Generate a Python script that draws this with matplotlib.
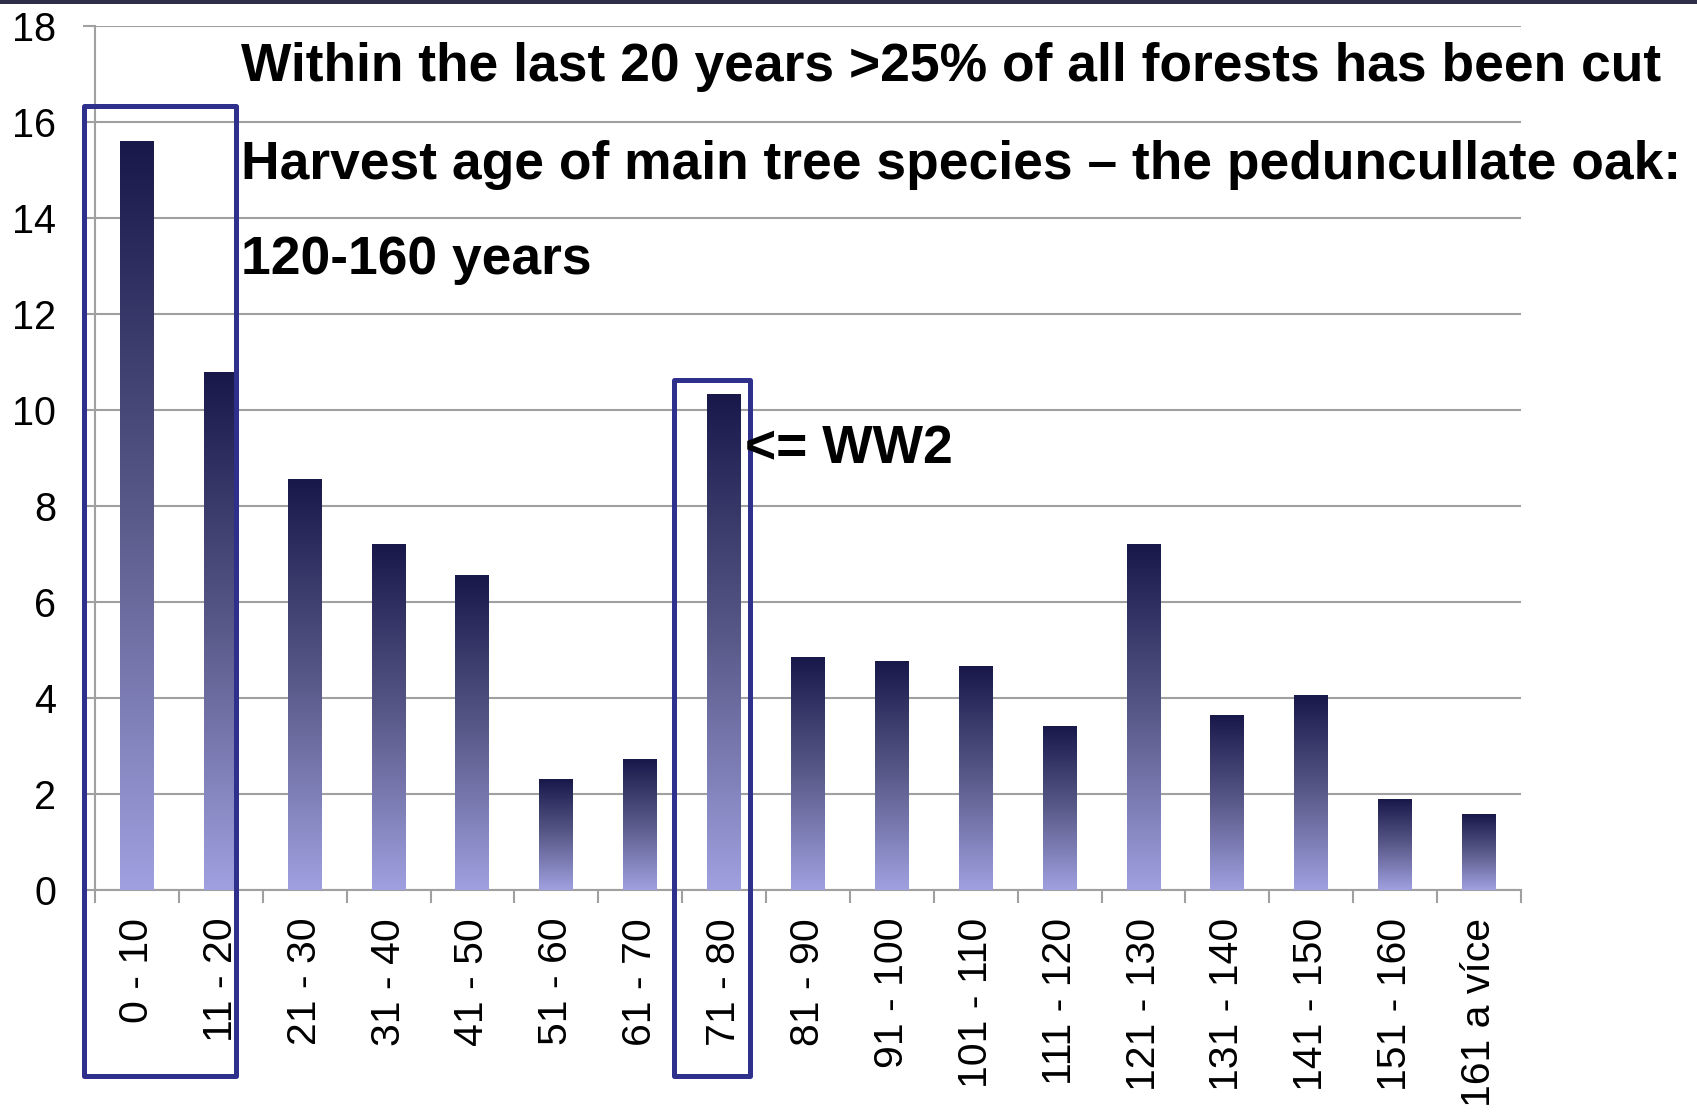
import numpy as np
import matplotlib
matplotlib.use("Agg")
import matplotlib.pyplot as plt
from matplotlib.patches import Rectangle
from matplotlib.colors import LinearSegmentedColormap

# Share of forest area by stand age class (%)
age_classes = ["0 - 10", "11 - 20", "21 - 30", "31 - 40", "41 - 50", "51 - 60",
               "61 - 70", "71 - 80", "81 - 90", "91 - 100", "101 - 110",
               "111 - 120", "121 - 130", "131 - 140", "141 - 150", "151 - 160",
               "161 a více"]
area_share = [15.6, 10.78, 8.55, 7.2, 6.56, 2.3, 2.71, 10.33, 4.85, 4.76, 4.65,
              3.41, 7.2, 3.63, 4.06, 1.89, 1.58]
y_ticks = [0, 2, 4, 6, 8, 10, 12, 14, 16, 18]

headline = ["Within the last 20 years >25% of all forests has been cut",
            "Harvest age of main tree species \u2013 the peduncullate oak:",
            "120-160 years"]
ww2_note = "<= WW2"

plt.rcParams["font.family"] = ["Liberation Sans", "DejaVu Sans"]

W, H = 1697, 1117
fig = plt.figure(figsize=(W / 100, H / 100), dpi=100)
fig.patch.set_facecolor("white")

# thin dark strip along the top edge
fig.patches.append(Rectangle((0, 1 - 4 / H), 1, 4 / H, transform=fig.transFigure,
                             facecolor="#2e2e48", edgecolor="none"))

ax = fig.add_axes([95 / W, (H - 890) / H, 1426 / W, (890 - 26) / H])

grid_col = "#a0a0a0"
x = np.arange(len(age_classes))
bars = ax.bar(x, area_share, width=0.405, color="none", edgecolor="none", zorder=3)

# vertical gradient: dark navy at the top fading to lavender at the base
grad_cmap = LinearSegmentedColormap.from_list(
    "oak", [(0.0, "#a0a0e0"), (0.5, "#5a5a8a"), (1.0, "#18184a")])
grad = np.linspace(0, 1, 256).reshape(-1, 1)
for b in bars:
    x0, w, h = b.get_x(), b.get_width(), b.get_height()
    ax.imshow(grad, cmap=grad_cmap, origin="lower", aspect="auto",
              extent=(x0, x0 + w, 0, h), zorder=3, interpolation="bilinear")

ax.set_xlim(-0.5, len(age_classes) - 0.5)
ax.set_ylim(0, 18)

ax.set_yticks(y_ticks)
ax.set_yticklabels([str(v) for v in y_ticks])
ax.yaxis.grid(True, color=grid_col, linewidth=1.5, zorder=1)
ax.set_axisbelow(True)

# category boundaries carry tick marks, centres carry the labels
ax.set_xticks(np.arange(-0.5, len(age_classes), 1.0))
ax.set_xticklabels([])
ax.set_xticks(x, minor=True)
ax.set_xticklabels(age_classes, minor=True, rotation=90, va="top", ha="center")
ax.tick_params(axis="x", which="major", length=9, width=1.5, color=grid_col, direction="out")
ax.tick_params(axis="x", which="minor", length=0, pad=20, labelsize=29.5)
ax.tick_params(axis="y", length=9, width=1.5, color=grid_col, pad=19, labelsize=28.5)

for side in ("top", "right"):
    ax.spines[side].set_visible(False)
for side in ("left", "bottom"):
    ax.spines[side].set_color(grid_col)
    ax.spines[side].set_linewidth(1.5)

# highlight frames around the young stands and the post-war class
box_col = "#2f2f8c"
for (left, right, top) in [(-0.631, 1.181, 16.33), (6.403, 7.309, 10.625)]:
    ax.add_patch(Rectangle((left, -3.875), right - left, top + 3.875, fill=False,
                           edgecolor=box_col, linewidth=3.6, clip_on=False,
                           zorder=5, joinstyle="round"))

# headline text
for txt, base in zip(headline, [81, 179, 274]):
    fig.text(241 / W, 1 - base / H, txt, fontsize=38.4, fontweight="bold",
             va="baseline", ha="left", color="black")

fig.text(745 / W, 1 - 463 / H, ww2_note, fontsize=38.4, fontweight="bold",
         va="baseline", ha="left", color="black")

fig.savefig("out.png", dpi=100)
